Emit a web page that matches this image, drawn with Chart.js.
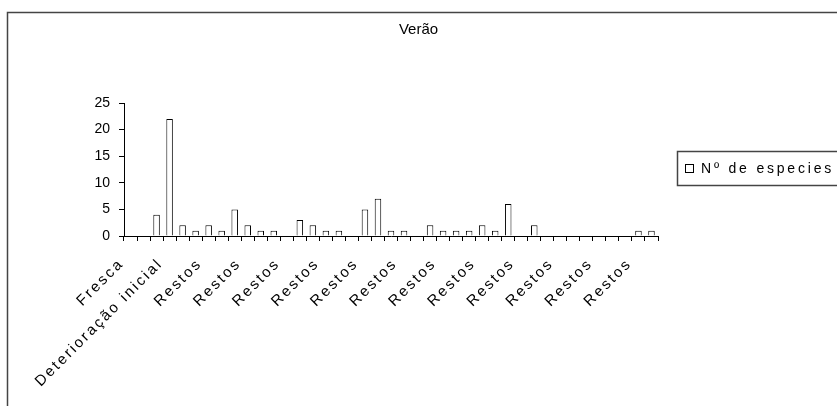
<!DOCTYPE html>
<html>
<head>
<meta charset="utf-8">
<script src="https://cdn.jsdelivr.net/npm/chart.js@4"></script>
<style>
  body { margin: 0; background: #fff; }
</style>
</head>
<body>
<canvas id="chart" width="837" height="406"></canvas>
<script>
const chartTitle = "Verão";
const seriesName = "Nº de especies";

// one category per bar, Excel only shows every third label
const categories = [
  "Fresca", "Fresca", "Fresca",
  "Deterioração inicial", "Deterioração inicial", "Deterioração inicial",
  "Restos", "Restos", "Restos", "Restos", "Restos", "Restos", "Restos",
  "Restos", "Restos", "Restos", "Restos", "Restos", "Restos", "Restos",
  "Restos", "Restos", "Restos", "Restos", "Restos", "Restos", "Restos",
  "Restos", "Restos", "Restos", "Restos", "Restos", "Restos", "Restos",
  "Restos", "Restos", "Restos", "Restos", "Restos", "Restos", "Restos"
];
const especies = [
  0, 0, 4, 22, 2, 1, 2, 1, 5, 2, 1, 1, 0, 3, 2, 1, 1, 0, 5, 7, 1,
  1, 0, 2, 1, 1, 1, 2, 1, 6, 0, 2, 0, 0, 0, 0, 0, 0, 0, 1, 1
];
const yTicks = [0, 5, 10, 15, 20, 25];
const labelEvery = 3;

const FONT = "'Liberation Sans', Arial, sans-serif";

// frame, wide letter spacing for x labels, hand-made legend box
const excelLook = {
  id: "excelLook",
  beforeDraw(chart) {
    const ctx = chart.ctx;
    ctx.save();
    ctx.strokeStyle = "#444";
    ctx.lineWidth = 1.5;
    ctx.strokeRect(7.5, 12.5, 900, 500);
    ctx.restore();
  },
  afterDatasetsDraw(chart) {
    // x tick labels are drawn after this (ticks.z = 1)
    chart.ctx.letterSpacing = "2.3px";
  },
  afterDraw(chart) {
    const ctx = chart.ctx;
    ctx.letterSpacing = "0px";
    ctx.save();
    ctx.strokeStyle = "#444";
    ctx.lineWidth = 1.5;
    ctx.strokeRect(677.5, 151.5, 200, 34);
    ctx.fillStyle = "#fff";
    ctx.fillRect(685.5, 164.5, 8, 8);
    ctx.strokeStyle = "#000";
    ctx.lineWidth = 1;
    ctx.strokeRect(685.5, 164.5, 8, 8);
    ctx.letterSpacing = "2.8px";
    ctx.fillStyle = "#000";
    ctx.font = "14px " + FONT;
    ctx.textBaseline = "middle";
    ctx.fillText(chart.data.datasets[0].label, 701, 169);
    ctx.restore();
  }
};

new Chart(document.getElementById("chart"), {
  type: "bar",
  data: {
    labels: categories,
    datasets: [{
      label: seriesName,
      data: especies,
      backgroundColor: "#fff",
      borderColor: "#000",
      borderWidth: 1,
      barPercentage: 0.5,
      categoryPercentage: 1
    }]
  },
  options: {
    responsive: false,
    animation: false,
    devicePixelRatio: 1,
    layout: { padding: 0 },
    plugins: {
      legend: { display: false },
      tooltip: { enabled: false },
      title: {
        display: true,
        text: chartTitle,
        color: "#000",
        font: { family: FONT, size: 15, weight: "normal" },
        padding: { top: 21, bottom: 64 }
      }
    },
    scales: {
      x: {
        afterFit(s) { s.height = 170; },
        grid: {
          display: true,
          drawOnChartArea: false,
          drawTicks: true,
          tickLength: 5,
          color: "#000"
        },
        border: { display: true, color: "#000", width: 1 },
        ticks: {
          z: 1,
          autoSkip: false,
          minRotation: 45,
          maxRotation: 45,
          padding: 14,
          labelOffset: -9,
          color: "#000",
          font: { family: FONT, size: 15 },
          callback(v, i) { return i % labelEvery === 0 ? categories[i] : ""; }
        }
      },
      y: {
        min: yTicks[0],
        max: yTicks[yTicks.length - 1],
        afterFit(s) { s.width = 124; },
        afterBuildTicks(s) { s.ticks = yTicks.map(v => ({ value: v })); },
        grid: {
          display: true,
          drawOnChartArea: false,
          drawTicks: true,
          tickLength: 5,
          color: "#000"
        },
        border: { display: true, color: "#000", width: 1 },
        ticks: {
          padding: 9,
          color: "#000",
          font: { family: FONT, size: 14 }
        }
      },
      // empty right-hand strip that leaves room for the legend box
      legendSpace: {
        position: "right",
        afterFit(s) { s.width = 179; },
        grid: { display: false },
        border: { display: false },
        ticks: { display: false }
      }
    }
  },
  plugins: [excelLook]
});
</script>
</body>
</html>
